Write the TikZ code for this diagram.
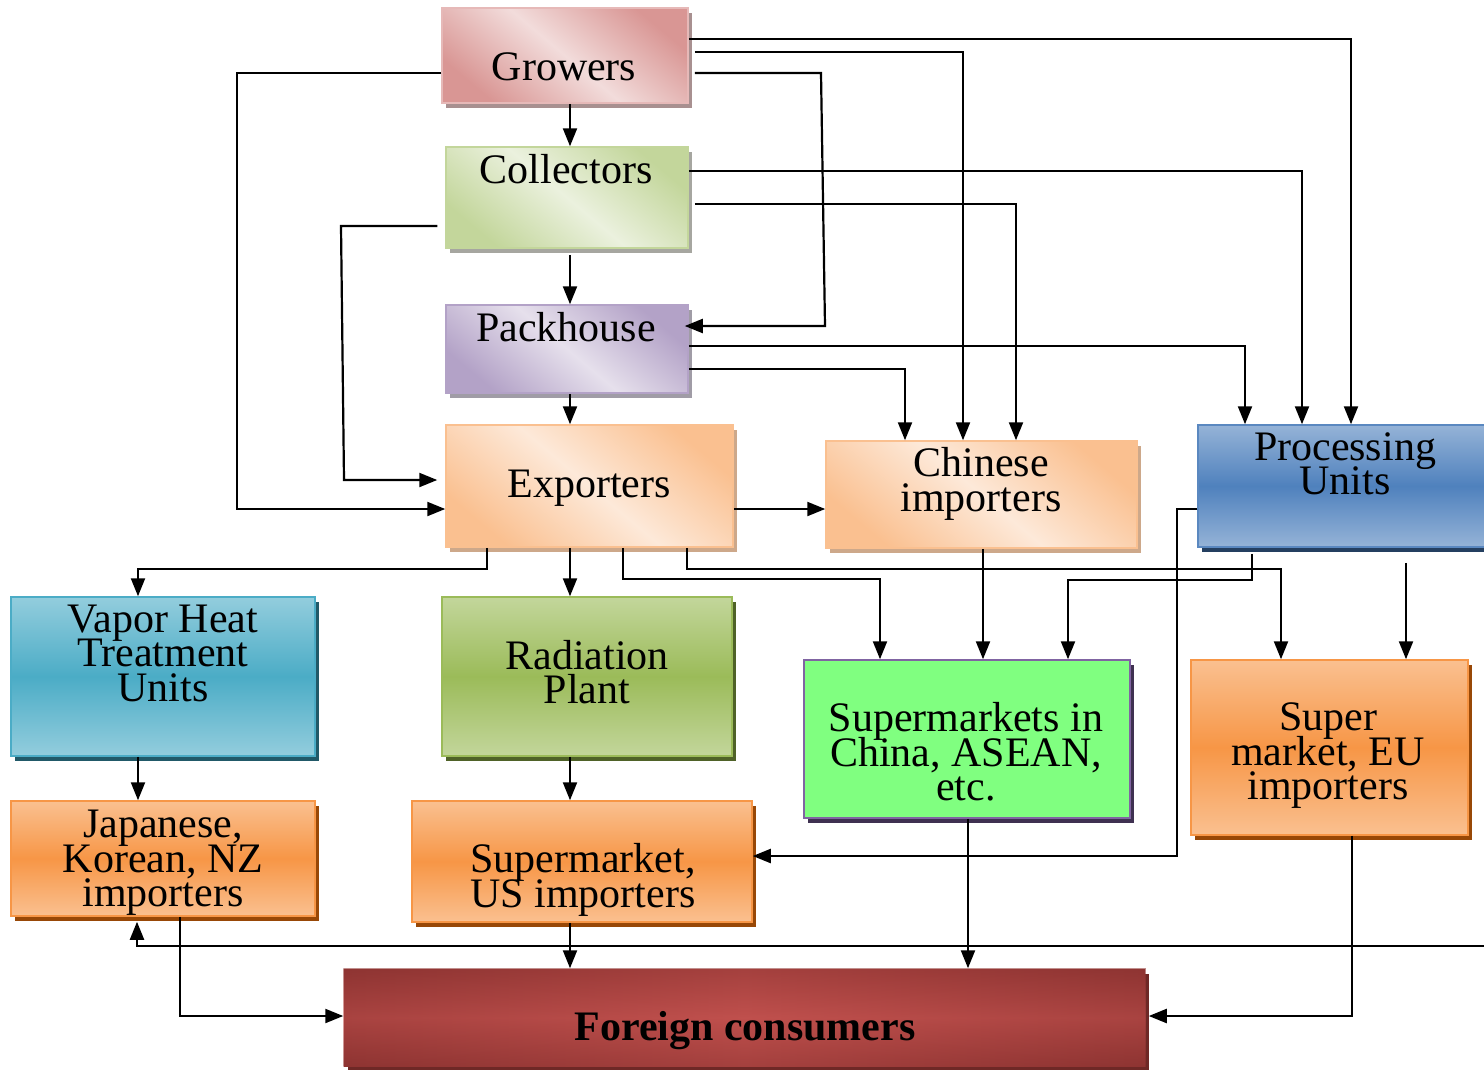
\documentclass[tikz,border=0pt]{standalone}
\usepackage{fontspec}
\setmainfont{Liberation Serif}
\usetikzlibrary{arrows.meta,calc,shadows}
\definecolor{grD}{HTML}{D99694}\definecolor{grL}{HTML}{F2DCDB}\definecolor{grB}{HTML}{E6B9B8}\definecolor{grS}{HTML}{A89090}
\definecolor{coD}{HTML}{C3D69B}\definecolor{coL}{HTML}{EBF1DE}\definecolor{coB}{HTML}{C3D69B}\definecolor{coS}{HTML}{A6A6A0}
\definecolor{paD}{HTML}{B3A2C7}\definecolor{paL}{HTML}{E6E0EC}\definecolor{paB}{HTML}{B3A2C7}\definecolor{paS}{HTML}{A09CA6}
\definecolor{exD}{HTML}{FAC090}\definecolor{exL}{HTML}{FDE9D9}\definecolor{exB}{HTML}{FAC090}\definecolor{exS}{HTML}{CDA88A}
\definecolor{prL}{HTML}{95B3D7}\definecolor{prD}{HTML}{4F81BD}\definecolor{prB}{HTML}{5A88C0}\definecolor{prS}{HTML}{243F60}
\definecolor{vaL}{HTML}{93CDDD}\definecolor{vaD}{HTML}{4BACC6}\definecolor{vaB}{HTML}{4BACC6}\definecolor{vaS}{HTML}{215968}
\definecolor{raL}{HTML}{C3D69B}\definecolor{raD}{HTML}{9BBB59}\definecolor{raB}{HTML}{9BBB59}\definecolor{raS}{HTML}{4F6228}
\definecolor{orL}{HTML}{FAC090}\definecolor{orD}{HTML}{F79646}\definecolor{orB}{HTML}{F79646}\definecolor{orS}{HTML}{984807}
\definecolor{scF}{HTML}{80FF80}\definecolor{scB}{HTML}{8064A2}\definecolor{scS}{HTML}{3F3151}
\definecolor{foD}{HTML}{8E3432}\definecolor{foL}{HTML}{C0504D}\definecolor{foS}{HTML}{6E2826}
\newcommand\myboxfont{\fontsize{42}{34.5}\selectfont\lineskiplimit=-100pt\relax\lineskip=0pt\relax}
\begin{document}
\begin{tikzpicture}[x=1pt,y=-1pt,
  box/.style={line width=1.5pt, inner sep=0pt},
  shadowc/.style={general shadow={fill=#1, shadow xshift=4pt, shadow yshift=-5pt}},
  diagbox/.style n args={3}{top color=#1, bottom color=#1, middle color=#2, shading angle=-40, draw=#3},
  vbox/.style n args={3}{top color=#1, bottom color=#1, middle color=#2, draw=#3},
  lbl/.style={font=\myboxfont, align=center, inner sep=0pt, text=black},
  arr/.style={line width=2.2pt, -{Triangle[length=18pt,width=14pt]}}]
\useasboundingbox (0,0) rectangle (1484,1069);
% boxes
\node[box, shadowc=grS, diagbox={grD}{grL}{grB}, minimum width=246pt, minimum height=95pt] (growers) at (565,55.5) {};
\node[box, shadowc=coS, diagbox={coD}{coL}{coB}, minimum width=242pt, minimum height=101pt] (collectors) at (567,197.5) {};
\node[box, shadowc=paS, diagbox={paD}{paL}{paB}, minimum width=242pt, minimum height=88pt] (packhouse) at (567,349) {};
\node[box, shadowc=exS, diagbox={exD}{exL}{exB}, minimum width=287pt, minimum height=122pt] (exporters) at (589.5,486) {};
\node[box, shadowc=exS, diagbox={exD}{exL}{exB}, minimum width=311pt, minimum height=107pt] (chinese) at (981.5,494.5) {};
\node[box, shadowc=prS, vbox={prL}{prD}{prB}, minimum width=302pt, minimum height=122pt] (proc) at (1349,486) {};
\node[box, shadowc=vaS, vbox={vaL}{vaD}{vaB}, minimum width=304pt, minimum height=159pt] (vapor) at (163,676.5) {};
\node[box, shadowc=raS, vbox={raL}{raD}{raB}, minimum width=290pt, minimum height=159pt] (radiation) at (587,676.5) {};
\node[box, shadowc=scS, fill=scF, draw=scB, minimum width=326pt, minimum height=158pt] (supchina) at (967,739) {};
\node[box, shadowc=orS, vbox={orL}{orD}{orB}, minimum width=277pt, minimum height=175pt] (eu) at (1329.5,747.5) {};
\node[box, shadowc=orS, vbox={orL}{orD}{orB}, minimum width=304pt, minimum height=115pt] (japanese) at (163,858.5) {};
\node[box, shadowc=orS, vbox={orL}{orD}{orB}, minimum width=340pt, minimum height=121pt] (us) at (582,861.5) {};
\node[box, shadowc=foS, left color=foD, right color=foD, middle color=foL, minimum width=801pt, minimum height=97pt] (foreign) at (744.5,1017.5) {};
\shade[top color=foD, bottom color=foD, middle color=foL, fill opacity=0.55] (foreign.north west) rectangle (foreign.south east);
% texts
\node[lbl, anchor=base] (growers-t) at (564,80) {Growers};
\node[lbl, anchor=base] (collectors-t) at (566,183) {Collectors};
\node[lbl, anchor=base] (packhouse-t) at (566,341) {Packhouse};
\node[lbl, anchor=base] (exporters-t) at (589,497) {Exporters};
\node[lbl] (chinese-t) at (981,484) {Chinese\\importers};
\node[lbl] (proc-t) at (1345,464) {Processing\\Units};
\node[lbl] (vapor-t) at (163,653) {Vapor Heat\\Treatment\\Units};
\node[lbl] (radiation-t) at (587,672) {Radiation\\Plant};
\node[lbl] (supchina-t) at (966,752) {Supermarkets in\\China, ASEAN,\\etc.};
\node[lbl] (eu-t) at (1328,756) {Super\\market, EU\\importers};
\node[lbl] (japanese-t) at (163,863) {Japanese,\\Korean, NZ\\importers};
\node[lbl] (us-t) at (583,880) {Supermarket,\\US importers};
\node[lbl, anchor=base, font=\myboxfont\bfseries] (foreign-t) at (745,1040) {Foreign consumers};
% connectors
\draw[arr] (growers.south -| 570,0) -- (collectors.north -| 570,0);
\draw[arr] ($(collectors.south -| 570,0)+(0,6)$) -- (packhouse.north -| 570,0);
\draw[arr] (packhouse.south -| 570,0) -- (exporters.north -| 570,0);
\draw[arr] (growers.west |- 0,73) -- (237,73) |- (exporters.west |- 0,509);
\draw[arr] ($(collectors.west |- 0,226)+(-8,0)$) -- (341,226) -- (344,480) -- ($(exporters.west |- 0,480)+(-8,0)$);
\draw[arr] ($(growers.east |- 0,73)+(6,0)$) -- (821,73) -- (825,326) -- ($(packhouse.east |- 0,326)+(-4,0)$);
\draw[arr] ($(growers.east |- 0,52)+(6,0)$) -| (chinese.north -| 963,0);
\draw[arr] (growers.east |- 0,39) -| (proc.north -| 1351,0);
\draw[arr] (collectors.east |- 0,171) -| (proc.north -| 1302,0);
\draw[arr] ($(collectors.east |- 0,204)+(6,0)$) -| (chinese.north -| 1016,0);
\draw[arr] (packhouse.east |- 0,346) -| (proc.north -| 1245,0);
\draw[arr] (packhouse.east |- 0,369) -| (chinese.north -| 905,0);
\draw[arr] (exporters.east |- 0,509) -- (chinese.west |- 0,509);
\draw[arr] (exporters.south -| 487,0) |- (138,569) -- (vapor.north -| 138,0);
\draw[arr] (exporters.south -| 570,0) -- (radiation.north -| 570,0);
\draw[arr] (exporters.south -| 623,0) |- (880,579) -- (supchina.north -| 880,0);
\draw[arr] (exporters.south -| 687,0) |- (1281,569) -- (eu.north -| 1281,0);
\draw[arr] (chinese.south -| 983,0) -- (supchina.north -| 983,0);
\draw[arr] ($(proc.south -| 1252,0)+(0,6)$) |- (1068,580) -- (supchina.north -| 1068,0);
\draw[arr] ($(proc.south -| 1406,0)+(0,15)$) -- (eu.north -| 1406,0);
\draw[arr] (proc.west |- 0,509) -- (1177,509) |- (us.east |- 0,856);
\draw[arr] (vapor.south -| 138,0) -- (japanese.north -| 138,0);
\draw[arr] (radiation.south -| 570,0) -- (us.north -| 570,0);
\draw[arr] (us.south -| 570,0) -- (foreign.north -| 570,0);
\draw[arr] (supchina.south -| 968,0) -- (foreign.north -| 968,0);
\draw[arr] (japanese.south -| 180,0) |- (foreign.west |- 0,1016);
\draw[arr] (eu.south -| 1352,0) |- ($(foreign.east |- 0,1016)+(3,0)$);
\coordinate (rightedge) at (1490,946);
\draw[arr] (rightedge) -| ($(japanese.south -| 137,0)+(0,5)$);
\end{tikzpicture}
\end{document}
